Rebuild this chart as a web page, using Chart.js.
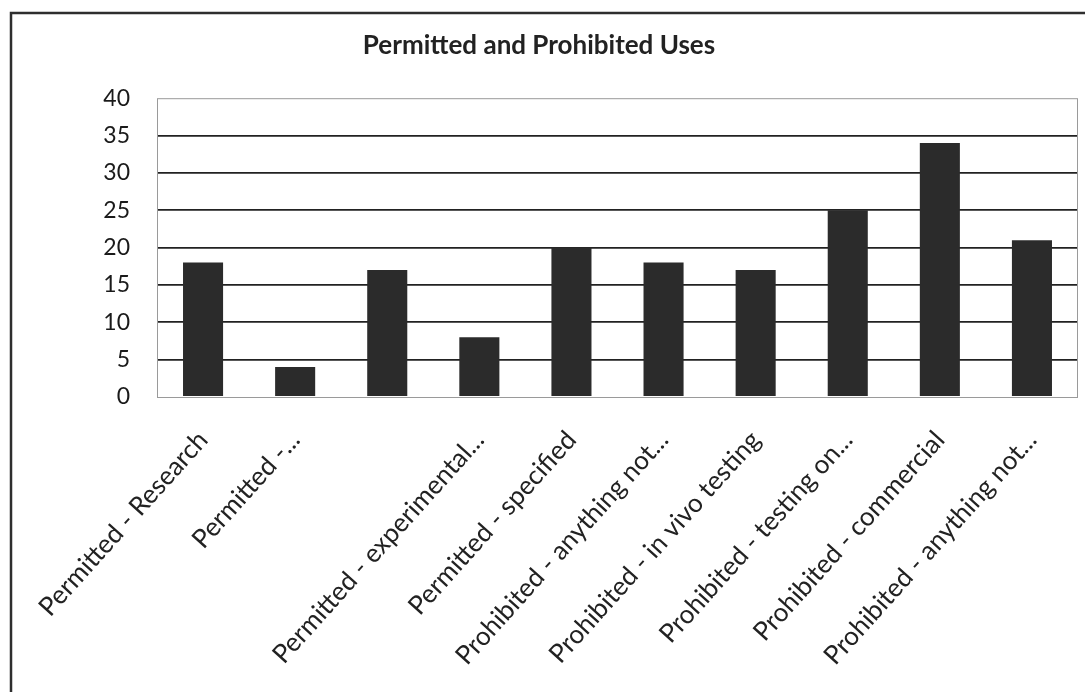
<!DOCTYPE html>
<html lang="en">
<head>
  <meta charset="UTF-8">
  <title>Permitted and Prohibited Uses</title>
  <script src="https://cdn.jsdelivr.net/npm/chart.js"></script>
  <style>
    body {
      margin: 0;
      background: #fff;
    }
    .chart-box {
      width: 1085px;
      height: 692px;
    }
  </style>
</head>
<body>

<div class="chart-box">
  <canvas id="usesChart" width="1085" height="692"></canvas>
</div>

<script>
  // the third category has no visible label in the original chart
  const categories = [
    'Permitted - Research',
    'Permitted -...',
    '',
    'Permitted - experimental...',
    'Permitted - specified',
    'Prohibited - anything not...',
    'Prohibited - in vivo testing',
    'Prohibited - testing on...',
    'Prohibited - commercial',
    'Prohibited - anything not...'
  ];
  const values = [18, 4, 17, 8, 20, 18, 17, 25, 34, 21];
  const yTicks = [0, 5, 10, 15, 20, 25, 30, 35, 40];

  // outer frame and plot frame
  const framePlugin = {
    id: 'frames',
    beforeDraw(chart) {
      const ctx = chart.ctx;
      ctx.save();
      ctx.fillStyle = '#fff';
      ctx.fillRect(0, 0, chart.width, chart.height);
      ctx.strokeStyle = '#2e2e2e';
      ctx.lineWidth = 2.5;
      ctx.strokeRect(11, 13, 1100, 720);
      ctx.restore();
    },
    beforeDatasetsDraw(chart) {
      const a = chart.chartArea;
      const ctx = chart.ctx;
      ctx.save();
      ctx.strokeStyle = '#9a9a9a';
      ctx.lineWidth = 1;
      ctx.strokeRect(a.left + 0.5, a.top + 0.5, a.right - a.left - 1, a.bottom - a.top);
      ctx.restore();
    }
  };

  new Chart(document.getElementById('usesChart'), {
    type: 'bar',
    data: {
      labels: categories,
      datasets: [{
        data: values,
        backgroundColor: '#2b2b2b',
        borderWidth: 0,
        barPercentage: 0.87,
        categoryPercentage: 0.5
      }]
    },
    options: {
      responsive: false,
      animation: false,
      layout: { padding: { left: 0, right: 7, top: 0, bottom: 0 } },
      plugins: {
        legend: { display: false },
        tooltip: { enabled: false },
        title: {
          display: true,
          text: 'Permitted and Prohibited Uses',
          color: '#222',
          font: { family: 'Lato', size: 26, weight: 'bold', lineHeight: 1.2 },
          padding: { top: 30, bottom: 37 }
        }
      },
      scales: {
        x: {
          grid: { display: false, drawTicks: false },
          border: { display: false },
          ticks: {
            color: '#222',
            font: { family: 'Lato', size: 26 },
            maxRotation: 48,
            minRotation: 48,
            autoSkip: false,
            padding: 28
          },
          afterFit(scale) { scale.height = 295; }
        },
        y: {
          min: 0,
          max: 40,
          afterBuildTicks(scale) { scale.ticks = yTicks.map(v => ({ value: v })); },
          grid: {
            drawTicks: false,
            color: ctx => (ctx.tick.value === 0 || ctx.tick.value === 40) ? 'rgba(0,0,0,0)' : '#222',
            lineWidth: 1.8
          },
          border: { display: false },
          ticks: {
            color: '#1a1a1a',
            font: { family: 'Lato', size: 23 },
            padding: 27
          },
          afterFit(scale) { scale.width = 157; }
        }
      }
    },
    plugins: [framePlugin]
  });
</script>

</body>
</html>
